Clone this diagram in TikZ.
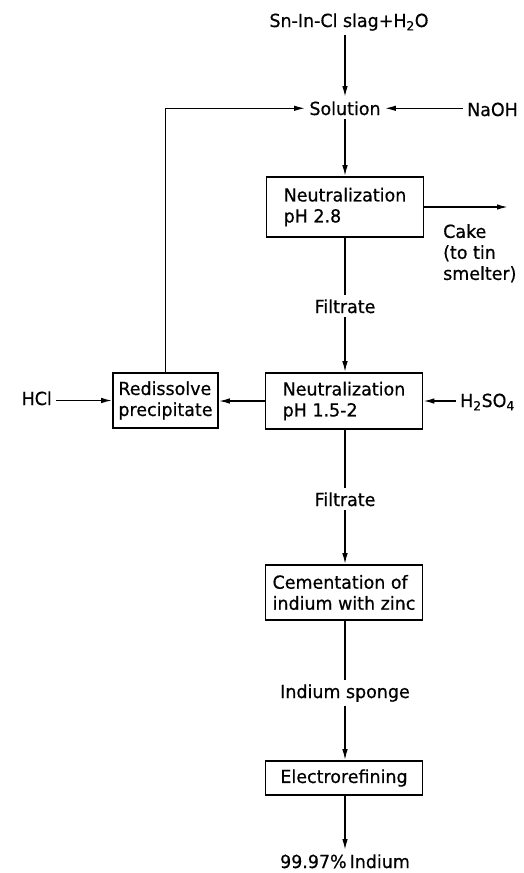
\documentclass[tikz,border=0pt]{standalone}
\usepackage{fontspec}
\setmainfont[FakeStretch=0.97,FakeBold=0.6]{DejaVu Sans}
\usetikzlibrary{arrows.meta}
\begin{document}
\begin{tikzpicture}[x=1pt,y=-1pt,
  every node/.style={font=\fontsize{18}{21}\selectfont, inner sep=4pt},
  proc/.style={draw, line width=1.6pt, minimum width=157pt, align=left, inner sep=1pt},
  arr/.style={line width=1.5pt, -{Latex[length=11pt,width=5.5pt]}},
  ln/.style={line width=1.5pt}]
\useasboundingbox (0,0) rectangle (523,873);
% nodes
\node[anchor=base] (title) at (349,27) {Sn-In-Cl slag+H\textsubscript{2}O};
\node[anchor=base] (sol) at (345,115) {Solution};
\node[anchor=base west] (naoh) at (463,116) {NaOH};
\node[proc, minimum height=60pt] (n1) at (345,207) {Neutralization\\pH 2.8};
\coordinate (cakeend) at (508,207);
\node[anchor=north west, align=left, inner sep=0pt] (cake) at (443,224) {Cake\\(to tin\\smelter)};
\node[anchor=base] (f1) at (345,313) {Filtrate};
\node[proc, minimum height=56pt] (n2) at (344,401) {Neutralization\\pH 1.5-2};
\node[proc, minimum width=105pt, minimum height=55pt] (rd) at (165.5,400.5) {Redissolve\\precipitate};
\node[anchor=base west] (h2) at (456,407) {H\textsubscript{2}SO\textsubscript{4}};
\node[anchor=base east] (hcl) at (56,405) {HCl};
\node[anchor=base] (f2) at (345,506) {Filtrate};
\node[proc, minimum height=55pt] (cem) at (344,592.5) {Cementation of\\indium with zinc};
\node[anchor=base] (sp) at (345,698) {Indium sponge};
\node[proc, minimum height=34pt] (el) at (344,778) {Electrorefining};
\node[anchor=base] (fin) at (345,868) {99.97\%\,Indium};
% connectors
\draw[arr] (title.south -| sol.north) -- (sol.north);
\draw[arr] (naoh.west |- sol.east) -- (sol.east);
\draw[arr] (rd.north) |- (sol.west);
\draw[arr] (sol.south) -- (sol.south |- n1.north);
\draw[arr] (n1.east) -- (n1.east -| cakeend);
\draw[ln] (f1.north |- n1.south) -- (f1.north);
\draw[arr] (f1.south) -- (f1.south |- n2.north);
\draw[arr] (n2.west) -- (n2.west -| rd.east);
\draw[arr] (h2.west |- n2.east) -- (n2.east);
\draw[arr] (hcl.east |- rd.west) -- (rd.west);
\draw[ln] (f2.north |- n2.south) -- (f2.north);
\draw[arr] (f2.south) -- (f2.south |- cem.north);
\draw[ln] (sp.north |- cem.south) -- (sp.north);
\draw[arr] (sp.south) -- (sp.south |- el.north);
\draw[arr] (fin.north |- el.south) -- (fin.north);
\end{tikzpicture}
\end{document}
